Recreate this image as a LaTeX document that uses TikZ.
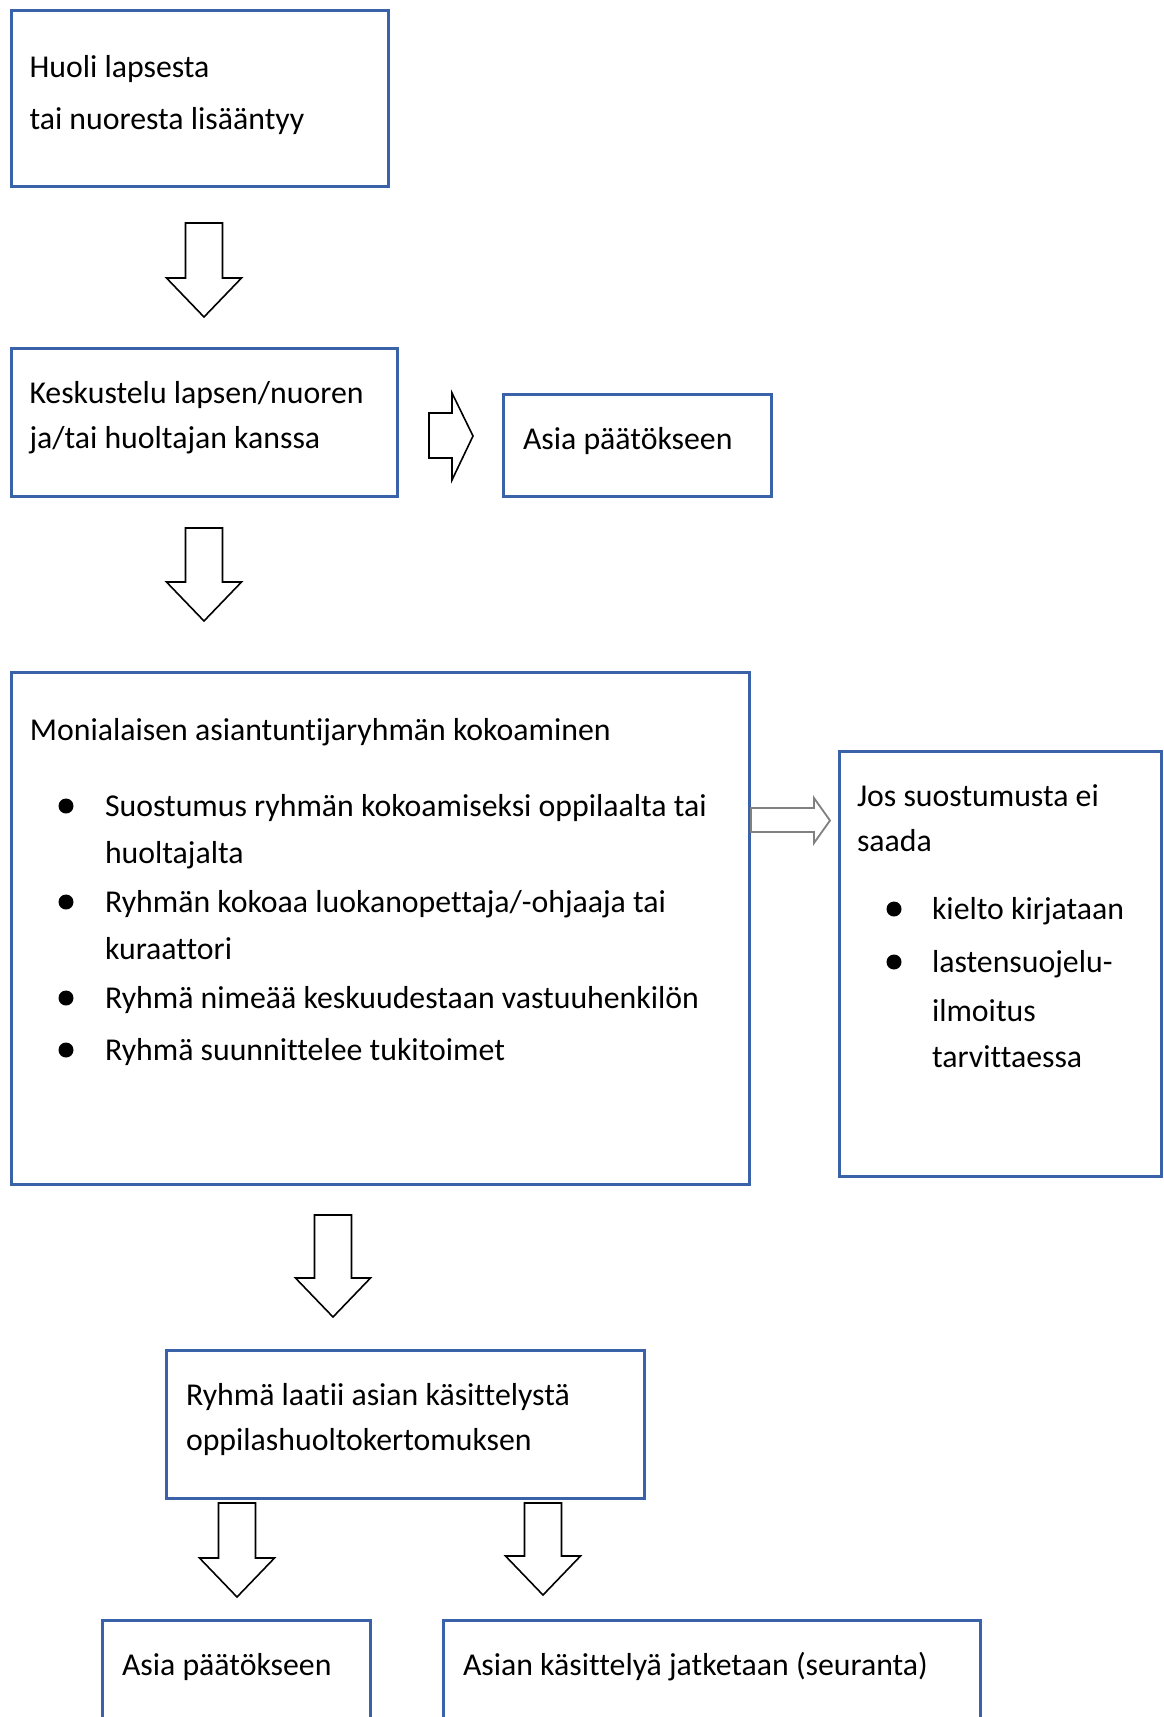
\documentclass[tikz,border=0pt]{standalone}
\usepackage{fontspec}
\setmainfont{Carlito}[Ligatures={NoCommon,NoContextual}]
\definecolor{boxblue}{HTML}{3A62A8}
\definecolor{arrgray}{HTML}{808080}
\begin{document}
\begin{tikzpicture}[x=1pt,y=-1pt,
  box/.style={draw=boxblue, line width=3pt, rectangle, inner sep=0pt, outer sep=0pt, anchor=north west},
  txt/.style={anchor=base west, inner sep=0pt, outer sep=0pt, text=black, font=\fontsize{31.8pt}{38pt}\selectfont},
  blk/.style={draw=black, line width=1.6pt, fill=white, line join=miter},
  gblk/.style={draw=arrgray, line width=1.8pt, fill=white, line join=miter},
  bdot/.style={fill=black, circle, inner sep=0pt, outer sep=0pt, minimum size=15pt},
  pics/downarr/.style={code={\draw[blk] (-18.5,0) -- (18.5,0) -- (18.5,#1-39) -- (37.5,#1-39) -- (0,#1) -- (-37.5,#1-39) -- (-18.5,#1-39) -- cycle;}},
]
\clip (0,0) rectangle (1164,1717);
\fill[white] (0,0) rectangle (1164,1717);

% boxes
\node[box, minimum width=377pt, minimum height=176pt] (b1) at (11,10) {};
\node[box, minimum width=386pt, minimum height=148pt] (b2) at (11,348) {};
\node[box, minimum width=268pt, minimum height=102pt] (b3) at (503,394) {};
\node[box, minimum width=738pt, minimum height=512pt] (b4) at (11,672) {};
\node[box, minimum width=322pt, minimum height=425pt] (b5) at (839,751) {};
\node[box, minimum width=478pt, minimum height=148pt] (b6) at (166,1350) {};
\node[box, minimum width=268pt, minimum height=200pt] (b7) at (102,1620) {};
\node[box, minimum width=537pt, minimum height=200pt] (b8) at (443,1620) {};

% texts
\node[txt] (t1a) at (29.5,77) {Huoli lapsesta};
\node[txt] (t1b) at (29.5,129) {tai nuoresta lisääntyy};
\node[txt] (t2a) at (29.5,403) {Keskustelu lapsen/nuoren};
\node[txt] (t2b) at (29.5,448) {ja/tai huoltajan kanssa};
\node[txt] (t3) at (523,449) {Asia päätökseen};
\node[txt] (t4) at (30,740) {Monialaisen asiantuntijaryhmän kokoaminen};
\node[txt] (t4a) at (105,816) {Suostumus ryhmän kokoamiseksi oppilaalta tai};
\node[txt] (t4b) at (105,863) {huoltajalta};
\node[txt] (t4c) at (105,912) {Ryhmän kokoaa luokanopettaja/-ohjaaja tai};
\node[txt] (t4d) at (105,959) {kuraattori};
\node[txt] (t4e) at (105,1008) {Ryhmä nimeää keskuudestaan vastuuhenkilön};
\node[txt] (t4f) at (105,1060) {Ryhmä suunnittelee tukitoimet};
\node[bdot] (d4a) at (66,806) {};
\node[bdot] (d4c) at (66,902) {};
\node[bdot] (d4e) at (66,998) {};
\node[bdot] (d4f) at (66,1050) {};
\node[txt] (t5a) at (857,806) {Jos suostumusta ei};
\node[txt] (t5b) at (857,851) {saada};
\node[txt] (t5c) at (932,919) {kielto kirjataan};
\node[txt] (t5d) at (932,972) {lastensuojelu-};
\node[txt] (t5e) at (932,1021) {ilmoitus};
\node[txt] (t5f) at (932,1067) {tarvittaessa};
\node[bdot] (d5c) at (894,909) {};
\node[bdot] (d5d) at (894,962) {};
\node[txt] (t6a) at (186,1405) {Ryhmä laatii asian käsittelystä};
\node[txt] (t6b) at (186,1450) {oppilashuoltokertomuksen};
\node[txt] (t7) at (122,1675) {Asia päätökseen};
\node[txt] (t8) at (463,1675) {Asian käsittelyä jatketaan (seuranta)};

% block arrows (down)
\pic at (204,223) {downarr=94};
\pic at (204,528) {downarr=93};
\pic at (333,1215) {downarr=102};
\pic at (237,1503) {downarr=94};
\pic at (543,1503) {downarr=92};

% right arrow b2 -> b3
\draw[blk] (429,413) -- (452,413) -- (452,393) -- (473,436) -- (452,480) -- (452,458) -- (429,458) -- cycle;
% small gray arrow b4 -> b5
\draw[gblk] (751,808) -- (814,808) -- (814,798) -- (830,820.5) -- (814,843) -- (814,832) -- (751,832) -- cycle;
\end{tikzpicture}
\end{document}
